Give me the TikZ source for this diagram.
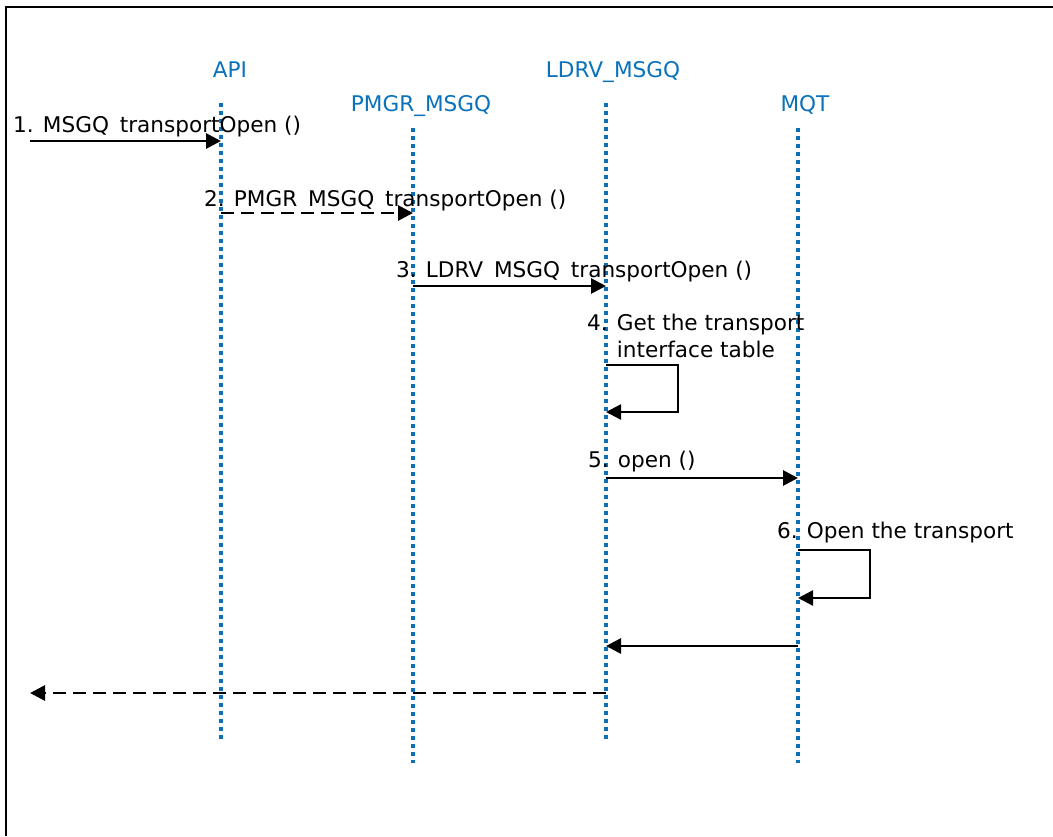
\documentclass[tikz,border=0pt]{standalone}
\usepackage{fontspec}
\setmainfont{DejaVu Sans}
\usetikzlibrary{arrows.meta}
\definecolor{lifeblue}{HTML}{0A72BA}
\newcommand{\usgap}{\hspace{0.5em}}
\begin{document}
\begin{tikzpicture}[x=1pt,y=-1pt,
  lifeline/.style={draw=lifeblue, line width=4pt, dash pattern=on 4pt off 4pt},
  head/.style={text=lifeblue, font=\fontsize{21.6}{26}\selectfont, anchor=base, inner sep=0pt},
  lbl/.style={font=\fontsize{21.6}{26.8}\selectfont, anchor=base west, inner sep=0pt, align=left},
  msg/.style={line width=2.8pt, -{Triangle[length=15pt,width=15pt]}},
  dashmsg/.style={msg, dash pattern=on 13pt off 7pt},
  loopmsg/.style={msg, line width=2.4pt},
  frameline/.style={line width=2.2pt}
]
\useasboundingbox (0,0) rectangle (1053,836);
% frame
\coordinate (fTR) at (1053,7);
\coordinate (fTL) at (6,7);
\coordinate (fBL) at (6,836);
\draw[frameline] (fTR) -- (fTL) -- (fBL);

% lifelines
\coordinate (apiT) at (221,103); \coordinate (apiB) at (221,740);
\coordinate (pmT) at (413,128);  \coordinate (pmB) at (413,763);
\coordinate (ldT) at (606,103);  \coordinate (ldB) at (606,740);
\coordinate (mqT) at (798,128);  \coordinate (mqB) at (798,763);
\draw[lifeline] (apiT) -- (apiB);
\draw[lifeline] (pmT) -- (pmB);
\draw[lifeline] (ldT) -- (ldB);
\draw[lifeline] (mqT) -- (mqB);

% headers
\node[head] (hapi) at (230,77) {API};
\node[head] (hpm) at (421,111) {PMGR\_MSGQ};
\node[head] (hld) at (613,77) {LDRV\_MSGQ};
\node[head] (hmq) at (805,111) {MQT};

% message 1
\coordinate (m1s) at (30,141);
\draw[msg] (m1s) -- (m1s -| apiT);
\node[lbl] (l1) at (13,132) {1. MSGQ\usgap transportOpen ()};

% message 2
\coordinate (m2s) at (221,213);
\draw[dashmsg] (m2s) -- (m2s -| pmT);
\node[lbl] (l2) at (204,206) {2. PMGR\usgap MSGQ\usgap transportOpen ()};

% message 3
\coordinate (m3s) at (413,286);
\draw[msg] (m3s) -- (m3s -| ldT);
\node[lbl] (l3) at (396,277) {3. LDRV\usgap MSGQ\usgap transportOpen ()};

% message 4 (self)
\coordinate (m4a) at (606,365);
\coordinate (m4b) at (678,365);
\coordinate (m4c) at (678,412);
\coordinate (m4d) at (606,412);
\draw[loopmsg] (m4a) -- (m4b) -- (m4c) -- (m4d);
\node[lbl] (l4) at (587,357) {4. Get the transport\\\hphantom{4. }interface table};

% message 5
\coordinate (m5s) at (606,478);
\draw[msg] (m5s) -- (m5s -| mqT);
\node[lbl] (l5) at (588,467) {5. open ()};

% message 6 (self)
\coordinate (m6a) at (798,550);
\coordinate (m6b) at (870,550);
\coordinate (m6c) at (870,598);
\coordinate (m6d) at (798,598);
\draw[loopmsg] (m6a) -- (m6b) -- (m6c) -- (m6d);
\node[lbl] (l6) at (777,538) {6. Open the transport};

% message 7 (return)
\coordinate (m7s) at (798,646);
\draw[msg] (m7s) -- (m7s -| ldT);

% message 8 (return)
\coordinate (m8s) at (606,693);
\coordinate (m8e) at (30,693);
\draw[dashmsg] (m8s) -- (m8e);
\end{tikzpicture}
\end{document}
